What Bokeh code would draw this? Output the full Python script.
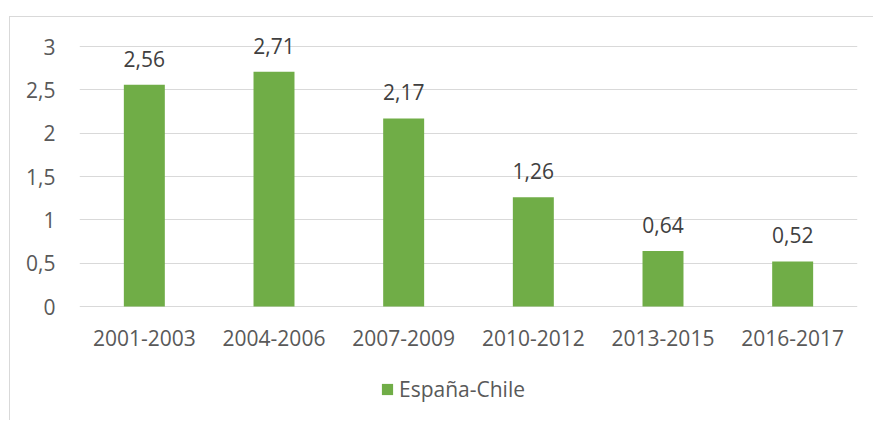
from bokeh.plotting import figure
from bokeh.models import ColumnDataSource, LabelSet, FixedTicker, CustomJSTickFormatter, FactorRange, Range1d, Legend
from bokeh.core.properties import value
from bokeh.embed import file_html
from bokeh.resources import INLINE

categories = ["2001-2003", "2004-2006", "2007-2009", "2010-2012", "2013-2015", "2016-2017"]
values = [2.56, 2.71, 2.17, 1.26, 0.64, 0.52]
series_name = "España-Chile"
y_ticks = [0, 0.5, 1, 1.5, 2, 2.5, 3]

labels = [f"{v:.2f}".replace(".", ",") for v in values]
src = ColumnDataSource(dict(cat=categories, val=values, lab=labels, zero=[0] * len(values)))

FONT = "Open Sans"
GRID = "#d9d9d9"
TXT = "#595959"
BAR = "#70ad47"

p = figure(x_range=FactorRange(*categories, range_padding=0), y_range=Range1d(-1.2, 3.3),
           width=864, height=404, output_backend="svg", toolbar_location=None,
           min_border_left=69, min_border_right=17, min_border_top=3, min_border_bottom=11)
p.margin = (16, 0, 0, 9)
p.styles = {"border-top": "1px solid #d9d9d9", "border-left": "1px solid #d9d9d9"}

r = p.vbar(x="cat", top="val", width=0.316, source=src, color=BAR, line_color=None)

p.add_layout(LabelSet(x="cat", y="val", text="lab", source=src, y_offset=18,
                      text_align="center", text_baseline="alphabetic",
                      text_font=value(FONT), text_font_size="21px", text_color="#404040"))
p.add_layout(LabelSet(x="cat", y="zero", text="cat", source=src, y_offset=-39,
                      text_align="center", text_baseline="alphabetic",
                      text_font=value(FONT), text_font_size="21px", text_color=TXT))

p.outline_line_color = None
p.xaxis.visible = False
p.xgrid.grid_line_color = None
p.ygrid.grid_line_color = GRID
p.ygrid.grid_line_width = 1
p.yaxis.ticker = FixedTicker(ticks=y_ticks)
p.ygrid.ticker = FixedTicker(ticks=y_ticks)
p.yaxis.formatter = CustomJSTickFormatter(code="return tick.toString().replace('.', ',');")
ax = p.yaxis
ax.axis_line_color = None
ax.major_tick_line_color = None
ax.minor_tick_line_color = None
ax.major_tick_out = 0
ax.major_tick_in = 0
ax.major_label_text_font = FONT
ax.major_label_text_font_size = "21px"
ax.major_label_text_color = TXT
ax.major_label_standoff = 24

lg = Legend(items=[(series_name, [r])], location=(301, 7), orientation="horizontal")
lg.border_line_color = None
lg.background_fill_alpha = 0
lg.padding = 0
lg.margin = 0
lg.glyph_width = 14
lg.glyph_height = 14
lg.label_standoff = 5
lg.label_text_font = FONT
lg.label_text_font_size = "21px"
lg.label_text_color = TXT
p.add_layout(lg, "center")

open("out.html", "w").write(file_html(p, INLINE))
